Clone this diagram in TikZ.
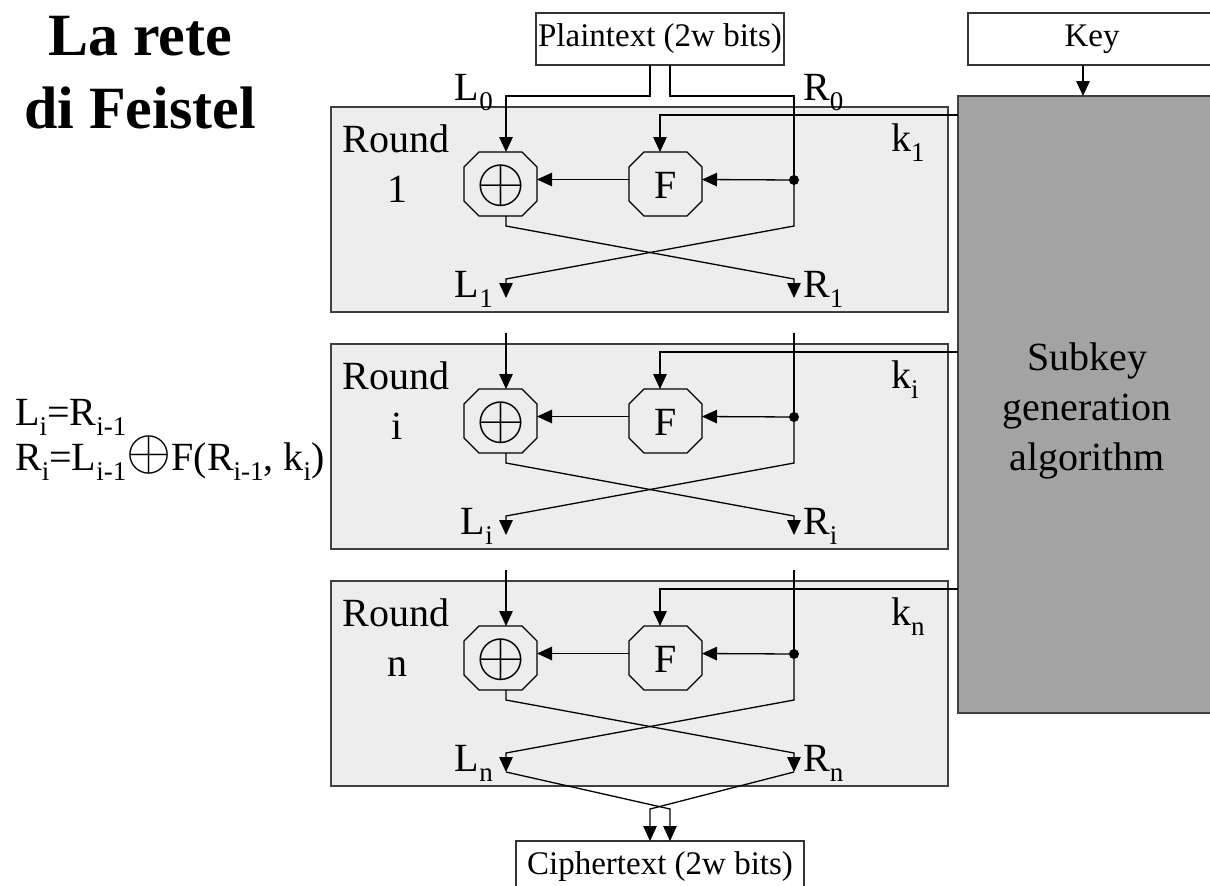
\documentclass[tikz,border=0pt]{standalone}
\usepackage{graphicx}
\usepackage{fontspec}
\setmainfont{Liberation Serif}
\usetikzlibrary{arrows.meta}

% lowered, smaller index as used in the labels
\newcommand{\lowidx}[1]{\raisebox{-0.25em}{\fontsize{27}{27}\selectfont #1}}
% thin circled plus at a given magnification
\newcommand{\xorsym}[1]{\scalebox{#1}{\fontsize{10}{12}\selectfont$\oplus$}}
% octagonal outline around a rectangular node
\newcommand{\octpath}[1]{%
  \draw[octline] ([xshift=15pt]#1.north west) -- ([xshift=-15pt]#1.north east)
    -- ([yshift=-15pt]#1.north east) -- ([yshift=15pt]#1.south east)
    -- ([xshift=-15pt]#1.south east) -- ([xshift=15pt]#1.south west)
    -- ([yshift=15pt]#1.south west) -- ([yshift=-15pt]#1.north west) -- cycle;}

\begin{document}
\begin{tikzpicture}[
  x=1pt, y=-1pt,
  wire/.style={draw=black, line width=1.3pt},
  arr/.style={wire, -{Triangle[length=15pt,width=13.5pt]}},
  roundbox/.style={draw=black!75, fill=black!7, line width=1.5pt,
    minimum width=617pt, minimum height=205pt, inner sep=0pt, outer sep=0pt},
  octa/.style={rectangle, minimum width=73pt, minimum height=64pt,
    inner sep=0pt, outer sep=0pt},
  octline/.style={draw=black, fill=black!7, line width=1.2pt, line join=miter},
  octatext/.style={inner sep=0pt, font=\fontsize{40}{40}\selectfont},
  dotn/.style={circle, fill=black, minimum size=10pt, inner sep=0pt},
  lbl/.style={inner sep=0pt, font=\fontsize{40}{46}\selectfont},
  txtbox/.style={draw=black!80, fill=white, line width=1.3pt, inner sep=0pt,
    outer sep=0pt, minimum height=52pt, font=\fontsize{33}{33}\selectfont},
  subkeybox/.style={draw=black!75, fill=black!36, line width=1.5pt, inner sep=0pt,
    outer sep=0pt},
  titlef/.style={inner sep=0pt, font=\fontsize{60}{60}\selectfont\bfseries}
]
\useasboundingbox (0,0) rectangle (1210,886);

% title
\node[titlef, anchor=base] (t1) at (140,55) {La rete};
\node[titlef, anchor=base] (t2) at (140,128) {di Feistel};

% round equations
\node[lbl, anchor=base west] (eq1) at (15,425) {L\lowidx{i}=R\lowidx{i-1}};
\node[lbl, anchor=base west] (eq2) at (15,470)
  {R\lowidx{i}=L\lowidx{i-1}\raisebox{1pt}{\xorsym{5.8}}F(R\lowidx{i-1}, k\lowidx{i})};

% key schedule
\node[txtbox, minimum width=248pt] (key) at (1092,39) {Key};
\node[subkeybox, minimum width=258pt, minimum height=617pt] (subkey) at (1087,404.5) {};
\node[inner sep=0pt, align=center, font=\fontsize{40}{50}\selectfont] (subtxt)
  at (1087,411) {Subkey\\generation\\algorithm};
\draw[arr] ([xshift=-9pt]key.south) -- ([xshift=-4pt]subkey.north);

% plaintext and ciphertext
\node[txtbox, minimum width=248pt] (pt) at (660,39) {Plaintext (2w bits)};
\node[txtbox, minimum width=288pt] (ct) at (660,867) {Ciphertext (2w bits)};

% the three rounds
\foreach \r/\d in {1/0, i/237, n/474} {
  \node[roundbox] (box\r) at (639.5,209.5+\d) {};
  \node[lbl, anchor=base] (rl\r) at (396,152+\d) {Round};
  \node[lbl, anchor=base] (rn\r) at (397,202+\d) {\r};
  \node[octa] (xor\r) at (500.5,184+\d) {};
  \octpath{xor\r}
  \node[octatext] (xs\r) at (500.5,186+\d) {\xorsym{6.3}};
  \node[octa] (f\r) at (665.5,184+\d) {};
  \octpath{f\r}
  \node[octatext] (fs\r) at (665.5,185+\d) {F};
  \node[dotn] (dot\r) at (794,180+\d) {};
  \node[lbl, anchor=base west] (k\r) at (891,151+\d) {k\lowidx{\r}};
  \coordinate (kin\r) at (958,115+\d);
  \coordinate (lo\r) at (506,298+\d);
  \coordinate (ro\r) at (794,298+\d);
  \node[lbl, anchor=base east] (ll\r) at (493,297+\d) {L\lowidx{\r}};
  \node[lbl, anchor=base west] (rr\r) at (803,297+\d) {R\lowidx{\r}};
  % subkey into F, F into XOR
  \draw[arr] (kin\r) -| ([xshift=-5.5pt]f\r.north);
  \draw[arr] (dot\r.center) -- ([yshift=4.5pt]f\r.east);
  \draw[arr] ([yshift=4.5pt]f\r.west) -- ([yshift=4.5pt]xor\r.east);
  % swap of the halves
  \draw[arr] ([xshift=5.5pt]xor\r.south) -- ++(0,10) -- ([yshift=19pt]ro\r) -- (ro\r);
  \draw[arr] (dot\r.center) -- ++(0,46) -- ([yshift=19pt]lo\r) -- (lo\r);
}

% inputs of round 1
\node[lbl, anchor=base east] (l0) at (493,100) {L\lowidx{0}};
\node[lbl, anchor=base west] (r0) at (803,100) {R\lowidx{0}};
\draw[arr] ([xshift=-10pt]pt.south) -- ++(0,31) -| ([xshift=5.5pt]xor1.north);
\draw[wire] ([xshift=10pt]pt.south) -- ++(0,31) -| (dot1.center);

% inputs of rounds i and n
\foreach \r/\d in {i/237, n/474} {
  \coordinate (lin\r) at (506,96+\d);
  \coordinate (rin\r) at (794,96+\d);
  \draw[arr] (lin\r) -- ([xshift=5.5pt]xor\r.north);
  \draw[wire] (rin\r) -- (dot\r.center);
}

% final output
\draw[arr] (lon) -- ++(164,37) -- ([xshift=10pt]ct.north);
\draw[arr] (ron) -- ++(-144,37) -- ([xshift=-10pt]ct.north);
\end{tikzpicture}
\end{document}
